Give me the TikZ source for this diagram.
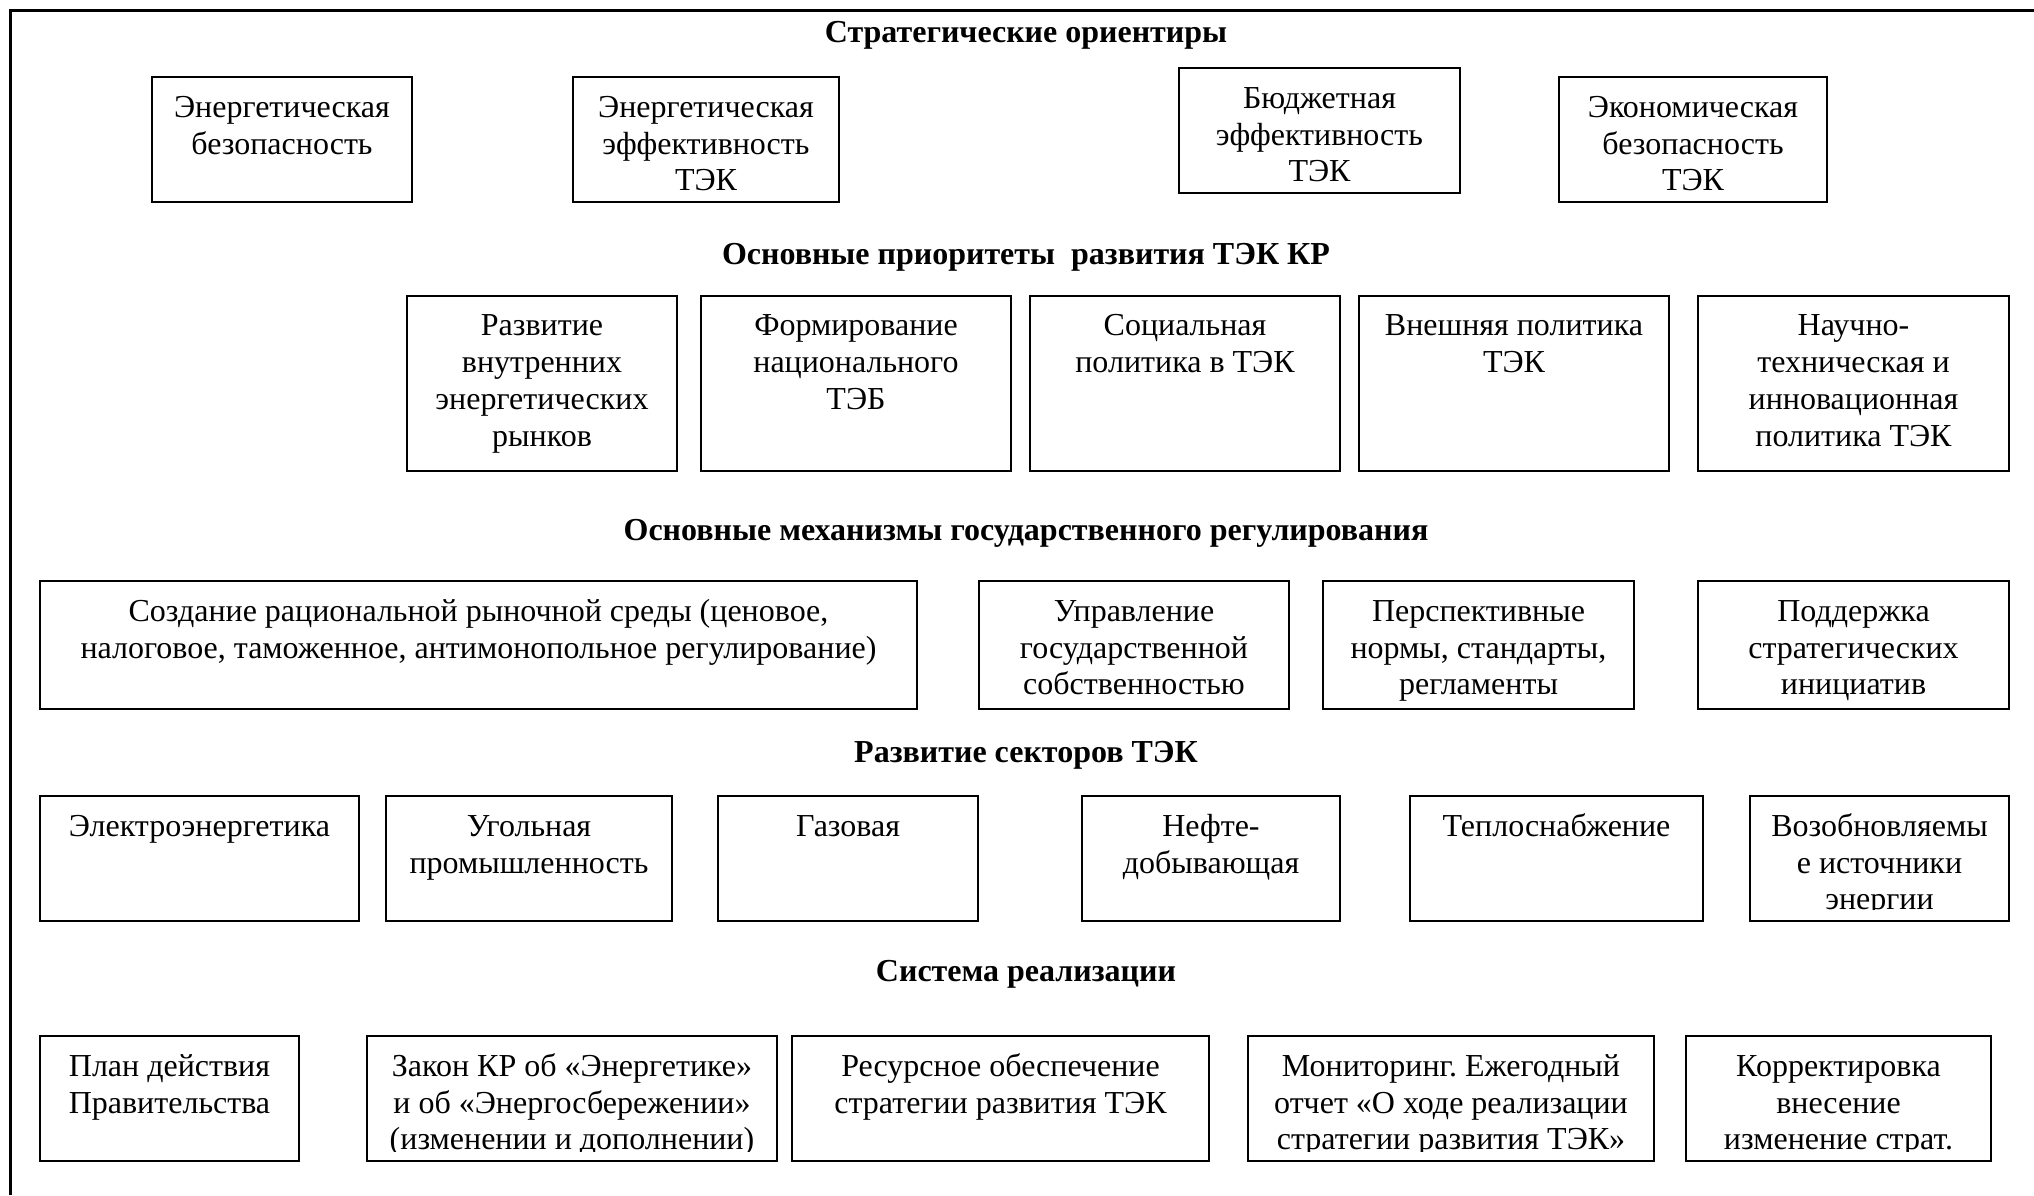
\documentclass[tikz,border=0pt]{standalone}
\usepackage{fontspec}
\setmainfont{Liberation Serif}
\frenchspacing
\tikzset{
  bx/.style={draw=black, line width=1pt, fill=none, inner sep=0pt, anchor=north west},
  sz/.style 2 args={minimum width={#1*0.5pt}, minimum height={#2*0.5pt}},
  txt/.style={align=center, inner sep=0pt, anchor=north, font=\fontsize{16}{18.35}\selectfont},
  ttl/.style={inner sep=0pt, anchor=base, font=\fontsize{16}{18.35}\selectfont\bfseries},
  frame/.style={line width=1.5pt}
}
\newcommand{\boxtext}[3]{\node[txt] (#1t) at ([yshift={-#2*0.5pt+13pt}]#1.north) {\rule{0pt}{13pt}#3};}
\newcommand{\clipboxtext}[4]{\begin{scope}\clip ([yshift=#3*0.5pt]#1.south west) rectangle (#1.north east);\node[txt] (#1t) at ([yshift={-#2*0.5pt+13pt}]#1.north) {\rule{0pt}{13pt}#4};\end{scope}}
\begin{document}
\begin{tikzpicture}[x=0.5pt,y=-0.5pt]
\useasboundingbox (0,0) rectangle (2034,1195);
\coordinate (fa) at (10.7,1195);
\coordinate (fb) at (10.7,10.7);
\coordinate (fc) at (2034,10.7);
\draw[frame] (fa) -- (fb) -- (fc);

% titles
\node[ttl] (t1) at (1026,42) {Стратегические ориентиры};
\node[ttl] (t2) at (1026,264) {Основные приоритеты\ \ развития ТЭК КР};
\node[ttl] (t3) at (1026,540) {Основные механизмы государственного регулирования};
\node[ttl] (t4) at (1026,762) {Развитие секторов ТЭК};
\node[ttl] (t5) at (1026,981) {Система реализации};

% row 1
\node[bx,sz={260}{125}] (r1a) at (151,76) {};
\node[bx,sz={266}{125}] (r1b) at (572,76) {};
\node[bx,sz={281}{125}] (r1c) at (1178,67) {};
\node[bx,sz={268}{125}] (r1d) at (1558,76) {};
\boxtext{r1a}{41}{Энергетическая\\безопасность}
\boxtext{r1b}{41}{Энергетическая\\эффективность\\ТЭК}
\boxtext{r1c}{41}{Бюджетная\\эффективность\\ТЭК}
\boxtext{r1d}{41}{Экономическая\\безопасность\\ТЭК}

% row 2
\node[bx,sz={270}{175}] (r2a) at (406,294.5) {};
\node[bx,sz={310}{175}] (r2b) at (700,294.5) {};
\node[bx,sz={310}{175}] (r2c) at (1029,294.5) {};
\node[bx,sz={310}{175}] (r2d) at (1358,294.5) {};
\node[bx,sz={311}{175}] (r2e) at (1697,294.5) {};
\boxtext{r2a}{41}{Развитие\\внутренних\\энергетических\\рынков}
\boxtext{r2b}{41}{Формирование\\национального\\ТЭБ}
\boxtext{r2c}{41}{Социальная\\политика в ТЭК}
\boxtext{r2d}{41}{Внешняя политика\\ТЭК}
\boxtext{r2e}{41}{Научно-\\техническая и\\инновационная\\политика ТЭК}

% row 3
\node[bx,sz={877}{128}] (r3a) at (39,580) {};
\node[bx,sz={310}{128}] (r3b) at (978,580) {};
\node[bx,sz={311}{128}] (r3c) at (1322,580) {};
\node[bx,sz={311}{128}] (r3d) at (1697,580) {};
\boxtext{r3a}{41}{Создание рациональной рыночной среды (ценовое,\\налоговое, таможенное, антимонопольное регулирование)}
\boxtext{r3b}{41}{Управление\\государственной\\собственностью}
\boxtext{r3c}{41}{Перспективные\\нормы, стандарты,\\регламенты}
\boxtext{r3d}{41}{Поддержка\\стратегических\\инициатив}

% row 4
\node[bx,sz={319}{125}] (r4a) at (39,795) {};
\node[bx,sz={286}{125}] (r4b) at (385,795) {};
\node[bx,sz={260}{125}] (r4c) at (717,795) {};
\node[bx,sz={258}{125}] (r4d) at (1081,795) {};
\node[bx,sz={293}{125}] (r4e) at (1409,795) {};
\node[bx,sz={259}{125}] (r4f) at (1749,795) {};
\boxtext{r4a}{41}{Электроэнергетика}
\boxtext{r4b}{41}{Угольная\\промышленность}
\boxtext{r4c}{41}{Газовая}
\boxtext{r4d}{41}{Нефте-\\добывающая}
\boxtext{r4e}{41}{Теплоснабжение}
\clipboxtext{r4f}{41}{13}{Возобновляемы\\е источники\\энергии}

% row 5
\node[bx,sz={259}{125}] (r5a) at (39,1035) {};
\node[bx,sz={410}{125}] (r5b) at (366,1035) {};
\node[bx,sz={417}{125}] (r5c) at (791,1035) {};
\node[bx,sz={406}{125}] (r5d) at (1247,1035) {};
\node[bx,sz={305}{125}] (r5e) at (1685,1035) {};
\boxtext{r5a}{41}{План действия\\Правительства}
\clipboxtext{r5b}{41}{11}{Закон КР об «Энергетике»\\и об «Энергосбережении»\\(изменении и дополнении)}
\boxtext{r5c}{41}{Ресурсное обеспечение\\стратегии развития ТЭК}
\clipboxtext{r5d}{41}{11}{Мониторинг. Ежегодный\\отчет «О ходе реализации\\стратегии развития ТЭК»}
\clipboxtext{r5e}{41}{11}{Корректировка\\внесение\\изменение страт.}
\end{tikzpicture}
\end{document}
